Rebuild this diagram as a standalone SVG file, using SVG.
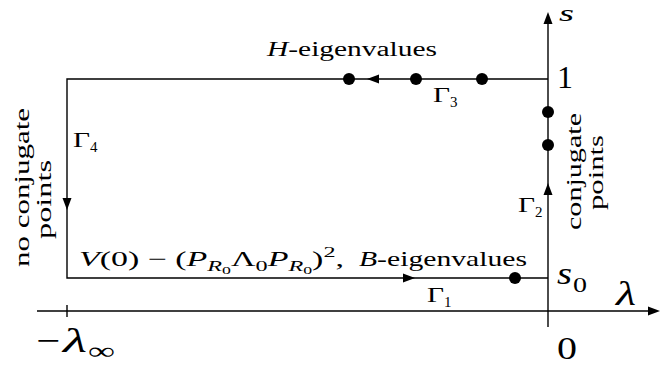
<svg xmlns="http://www.w3.org/2000/svg" width="660" height="368" viewBox="0 0 660 368">
<style>
.ln{stroke:#000;stroke-width:1.4;fill:none}
.t{font-family:"Liberation Serif","Times New Roman",serif;fill:#000}
.i{font-style:italic}
.dot{fill:#000}
</style>
<defs>
<path id="ah" d="M0,0 L-12,-4.5 L-12,4.5 Z" fill="#000"/>
</defs>
<rect width="660" height="368" fill="#fff"/>
<g id="axes">
<line class="ln" x1="37" y1="311" x2="650" y2="311"/>
<use href="#ah" transform="translate(660,311)"/>
<line class="ln" x1="67" y1="305" x2="67" y2="317"/>
<line class="ln" x1="548" y1="327" x2="548" y2="22"/>
<use href="#ah" transform="translate(548,12) rotate(-90)"/>
</g>
<g id="connectors">
<path class="ln" d="M548,79 H67 V278 H548"/>
<use href="#ah" transform="translate(367,79) rotate(180)"/>
<use href="#ah" transform="translate(67,210) rotate(90)"/>
<use href="#ah" transform="translate(548,183) rotate(-90)"/>
<use href="#ah" transform="translate(415,278)"/>
</g>
<g id="dots">
<circle class="dot" cx="349" cy="79" r="6"/>
<circle class="dot" cx="416" cy="79" r="6"/>
<circle class="dot" cx="482" cy="79" r="6"/>
<circle class="dot" cx="548" cy="112" r="6"/>
<circle class="dot" cx="548" cy="145" r="6"/>
<circle class="dot" cx="515" cy="278" r="6"/>
</g>
<g id="axis-labels">
<text class="t i" x="559" y="21" font-size="24" textLength="15" lengthAdjust="spacingAndGlyphs">s</text>
<text class="t" x="557" y="88" font-size="32">1</text>
<text class="t i" x="557" y="284" font-size="32" textLength="15" lengthAdjust="spacingAndGlyphs">s</text>
<text class="t" x="573" y="292" font-size="22" textLength="14" lengthAdjust="spacingAndGlyphs">0</text>
<text class="t i" x="616" y="305" font-size="34" textLength="20" lengthAdjust="spacingAndGlyphs">λ</text>
<text class="t" x="557" y="359" font-size="32" textLength="20" lengthAdjust="spacingAndGlyphs">0</text>
<text class="t" x="36" y="352" font-size="34" textLength="24" lengthAdjust="spacingAndGlyphs">−</text>
<text class="t i" x="63" y="352" font-size="34" textLength="24" lengthAdjust="spacingAndGlyphs">λ</text>
<text class="t" x="88" y="359" font-size="24" textLength="27" lengthAdjust="spacingAndGlyphs">∞</text>
</g>
<g id="gamma-labels">
<text class="t" x="433" y="102" font-size="20" textLength="17" lengthAdjust="spacingAndGlyphs">Γ</text>
<text class="t" x="450" y="107" font-size="15">3</text>
<text class="t" x="73" y="147" font-size="20" textLength="17" lengthAdjust="spacingAndGlyphs">Γ</text>
<text class="t" x="90" y="152" font-size="15">4</text>
<text class="t" x="518" y="212" font-size="20" textLength="17" lengthAdjust="spacingAndGlyphs">Γ</text>
<text class="t" x="535" y="217" font-size="15">2</text>
<text class="t" x="427" y="302" font-size="20" textLength="17" lengthAdjust="spacingAndGlyphs">Γ</text>
<text class="t" x="444" y="307" font-size="15">1</text>
</g>
<g id="h-label">
<text class="t" x="267" y="56" font-size="20" textLength="170" lengthAdjust="spacingAndGlyphs"><tspan class="i">H</tspan>-eigenvalues</text>
</g>
<g id="v-label">
<text class="t" x="79" y="266" font-size="21" textLength="265" lengthAdjust="spacingAndGlyphs"><tspan class="i">V</tspan>(0) − (<tspan class="i">P</tspan><tspan class="i" font-size="15" dy="5">R</tspan><tspan font-size="11" dy="3">0</tspan><tspan dy="-8">Λ</tspan><tspan font-size="15" dy="5">0</tspan><tspan class="i" dy="-5">P</tspan><tspan class="i" font-size="15" dy="5">R</tspan><tspan font-size="11" dy="3">0</tspan><tspan dy="-8">)</tspan><tspan font-size="15" dy="-9">2</tspan><tspan dy="9">,</tspan></text>
<text class="t" x="359" y="266" font-size="21" textLength="168" lengthAdjust="spacingAndGlyphs"><tspan class="i">B</tspan>-eigenvalues</text>
</g>
<g id="left-note">
<text class="t" transform="translate(29,187.5) rotate(-90)" text-anchor="middle" font-size="20" textLength="159" lengthAdjust="spacingAndGlyphs">no conjugate</text>
<text class="t" transform="translate(51,199.5) rotate(-90)" text-anchor="middle" font-size="20" textLength="79" lengthAdjust="spacingAndGlyphs">points</text>
</g>
<g id="right-note">
<text class="t" transform="translate(581,171.5) rotate(-90)" text-anchor="middle" font-size="20" textLength="117" lengthAdjust="spacingAndGlyphs">conjugate</text>
<text class="t" transform="translate(603,172.5) rotate(-90)" text-anchor="middle" font-size="20" textLength="75" lengthAdjust="spacingAndGlyphs">points</text>
</g>
</svg>
